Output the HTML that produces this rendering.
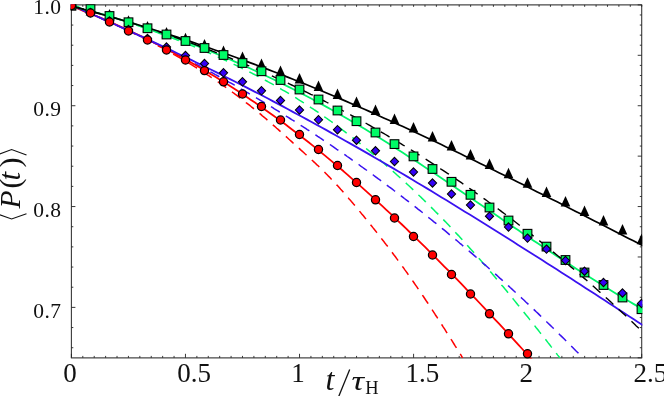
<!DOCTYPE html>
<html><head><meta charset="utf-8"><title>P(t)</title>
<style>
html,body{margin:0;padding:0;background:#fff;}
body{width:664px;height:396px;overflow:hidden;font-family:"Liberation Serif",serif;}
svg{display:block;will-change:transform;}
text{font-family:"Liberation Serif",serif;fill:#111;}
</style></head><body>
<svg width="664" height="396" viewBox="0 0 664 396">
<rect x="0" y="0" width="664" height="396" fill="#fff"/>
<defs><clipPath id="pc"><rect x="70.7" y="4.300000000000001" width="571.6" height="354.1"/></clipPath><clipPath id="pc2"><rect x="70.7" y="4.300000000000001" width="571.6" height="355.90000000000003"/></clipPath></defs>

<g stroke="#444" stroke-width="1" fill="none">
<path d="M70.9,4.9 H642.2 M70.9,357.8 H642.2" stroke="#4a4a4a" stroke-width="1.25"/>
<path d="M71.4,4.9 V357.8 M641.7,4.9 V357.8" stroke="#3a3a3a" stroke-width="1.1"/>
<path d="M71.40,357.8 v-4.0 M71.40,4.9 v1.9 M82.81,357.8 v-1.9 M82.81,4.9 v1.9 M94.21,357.8 v-1.9 M94.21,4.9 v1.9 M105.62,357.8 v-1.9 M105.62,4.9 v1.9 M117.02,357.8 v-1.9 M117.02,4.9 v1.9 M128.43,357.8 v-1.9 M128.43,4.9 v1.9 M139.84,357.8 v-1.9 M139.84,4.9 v1.9 M151.24,357.8 v-1.9 M151.24,4.9 v1.9 M162.65,357.8 v-1.9 M162.65,4.9 v1.9 M174.05,357.8 v-1.9 M174.05,4.9 v1.9 M185.46,357.8 v-4.0 M185.46,4.9 v1.9 M196.87,357.8 v-1.9 M196.87,4.9 v1.9 M208.27,357.8 v-1.9 M208.27,4.9 v1.9 M219.68,357.8 v-1.9 M219.68,4.9 v1.9 M231.08,357.8 v-1.9 M231.08,4.9 v1.9 M242.49,357.8 v-1.9 M242.49,4.9 v1.9 M253.90,357.8 v-1.9 M253.90,4.9 v1.9 M265.30,357.8 v-1.9 M265.30,4.9 v1.9 M276.71,357.8 v-1.9 M276.71,4.9 v1.9 M288.11,357.8 v-1.9 M288.11,4.9 v1.9 M299.52,357.8 v-4.0 M299.52,4.9 v1.9 M310.93,357.8 v-1.9 M310.93,4.9 v1.9 M322.33,357.8 v-1.9 M322.33,4.9 v1.9 M333.74,357.8 v-1.9 M333.74,4.9 v1.9 M345.14,357.8 v-1.9 M345.14,4.9 v1.9 M356.55,357.8 v-1.9 M356.55,4.9 v1.9 M367.96,357.8 v-1.9 M367.96,4.9 v1.9 M379.36,357.8 v-1.9 M379.36,4.9 v1.9 M390.77,357.8 v-1.9 M390.77,4.9 v1.9 M402.17,357.8 v-1.9 M402.17,4.9 v1.9 M413.58,357.8 v-4.0 M413.58,4.9 v1.9 M424.99,357.8 v-1.9 M424.99,4.9 v1.9 M436.39,357.8 v-1.9 M436.39,4.9 v1.9 M447.80,357.8 v-1.9 M447.80,4.9 v1.9 M459.20,357.8 v-1.9 M459.20,4.9 v1.9 M470.61,357.8 v-1.9 M470.61,4.9 v1.9 M482.02,357.8 v-1.9 M482.02,4.9 v1.9 M493.42,357.8 v-1.9 M493.42,4.9 v1.9 M504.83,357.8 v-1.9 M504.83,4.9 v1.9 M516.23,357.8 v-1.9 M516.23,4.9 v1.9 M527.64,357.8 v-4.0 M527.64,4.9 v1.9 M539.05,357.8 v-1.9 M539.05,4.9 v1.9 M550.45,357.8 v-1.9 M550.45,4.9 v1.9 M561.86,357.8 v-1.9 M561.86,4.9 v1.9 M573.26,357.8 v-1.9 M573.26,4.9 v1.9 M584.67,357.8 v-1.9 M584.67,4.9 v1.9 M596.08,357.8 v-1.9 M596.08,4.9 v1.9 M607.48,357.8 v-1.9 M607.48,4.9 v1.9 M618.89,357.8 v-1.9 M618.89,4.9 v1.9 M630.29,357.8 v-1.9 M630.29,4.9 v1.9 M641.70,357.8 v-4.0 M641.70,4.9 v1.9 M71.4,4.90 h4.0 M71.4,25.07 h1.9 M71.4,45.23 h1.9 M71.4,65.40 h1.9 M71.4,85.56 h1.9 M71.4,105.73 h4.0 M71.4,125.89 h1.9 M71.4,146.06 h1.9 M71.4,166.23 h1.9 M71.4,186.39 h1.9 M71.4,206.56 h4.0 M71.4,226.72 h1.9 M71.4,246.89 h1.9 M71.4,267.05 h1.9 M71.4,287.22 h1.9 M71.4,307.39 h4.0 M71.4,327.55 h1.9 M71.4,347.72 h1.9 M641.7,4.90 h-4.0 M641.7,14.98 h-1.9 M641.7,25.07 h-1.9 M641.7,35.15 h-1.9 M641.7,45.23 h-1.9 M641.7,55.31 h-4.0 M641.7,65.40 h-1.9 M641.7,75.48 h-1.9 M641.7,85.56 h-1.9 M641.7,95.65 h-1.9 M641.7,105.73 h-4.0 M641.7,115.81 h-1.9 M641.7,125.89 h-1.9 M641.7,135.98 h-1.9 M641.7,146.06 h-1.9 M641.7,156.14 h-4.0 M641.7,166.23 h-1.9 M641.7,176.31 h-1.9 M641.7,186.39 h-1.9 M641.7,196.47 h-1.9 M641.7,206.56 h-4.0 M641.7,216.64 h-1.9 M641.7,226.72 h-1.9 M641.7,236.81 h-1.9 M641.7,246.89 h-1.9 M641.7,256.97 h-4.0 M641.7,267.05 h-1.9 M641.7,277.14 h-1.9 M641.7,287.22 h-1.9 M641.7,297.30 h-1.9 M641.7,307.39 h-4.0 M641.7,317.47 h-1.9 M641.7,327.55 h-1.9 M641.7,337.63 h-1.9 M641.7,347.72 h-1.9 M641.7,357.80 h-4.0" stroke="#222" stroke-width="0.9"/>
</g>
<g clip-path="url(#pc)" fill="none" stroke-linecap="butt" stroke-linejoin="round">
<path d="M462.6,357.8 L462.0,356.8 L460.7,354.7 L459.3,352.5 L458.0,350.4 L456.7,348.2 L455.3,346.1 L454.0,344.0 L452.7,341.8 L451.3,339.7 L450.0,337.6 L448.7,335.5 L447.3,333.4 L446.0,331.3 L444.7,329.2 L443.3,327.1 L442.0,325.0 L440.7,322.9 L439.3,320.9 L438.0,318.8 L436.7,316.7 L435.3,314.7 L434.0,312.6 L432.7,310.6 L431.3,308.6 L430.0,306.5 L428.7,304.5 L427.4,302.5 L426.0,300.5 L424.7,298.5 L423.4,296.5 L422.0,294.5 L420.7,292.6 L419.4,290.6 L418.0,288.6 L416.7,286.7 L415.4,284.8 L414.0,282.8 L412.7,280.9 L411.4,279.0 L410.0,277.1 L408.7,275.2 L407.4,273.3 L406.0,271.4 L404.7,269.6 L403.4,267.7 L402.0,265.9 L400.7,264.0 L399.4,262.2 L398.0,260.4 L396.7,258.6 L395.4,256.8 L394.0,255.0 L392.7,253.2 L391.4,251.4 L390.0,249.6 L388.7,247.9 L387.4,246.1 L386.0,244.4 L384.7,242.7 L383.4,240.9 L382.0,239.2 L380.7,237.5 L379.4,235.8 L378.0,234.1 L376.7,232.4 L375.4,230.7 L374.0,229.0 L372.7,227.4 L371.4,225.7 L370.0,224.0 L368.7,222.4 L367.4,220.7 L366.0,219.1 L364.7,217.5 L363.4,215.8 L362.0,214.2 L360.7,212.6 L359.4,211.0 L358.0,209.4 L356.7,207.8 L355.4,206.2 L354.0,204.6 L352.7,203.0 L351.4,201.5 L350.1,199.9 L348.7,198.4 L347.4,196.8 L346.1,195.3 L344.7,193.8 L343.4,192.3 L342.1,190.8 L340.7,189.3 L339.4,187.8 L338.1,186.3 L336.7,184.9 L335.4,183.4 L334.1,182.0 L332.7,180.6 L331.4,179.2 L330.1,177.8 L328.7,176.4 L327.4,175.0 L326.1,173.7 L324.7,172.3 L323.4,171.0 L322.1,169.7 L320.7,168.4 L319.4,167.1 L318.1,165.8 L316.7,164.6 L315.4,163.3 L314.1,162.1 L312.7,160.8 L311.4,159.6 L310.1,158.4 L308.7,157.1 L307.4,155.9 L306.1,154.7 L304.7,153.5 L303.4,152.3 L302.1,151.1 L300.7,149.9 L299.4,148.6 L298.1,147.4 L296.7,146.2 L295.4,145.0 L294.1,143.8 L292.7,142.6 L291.4,141.4 L290.1,140.2 L288.7,139.0 L287.4,137.8 L286.1,136.6 L284.7,135.4 L283.4,134.2 L282.1,133.0 L280.7,131.8 L279.4,130.6 L278.1,129.4 L276.7,128.2 L275.4,127.0 L274.1,125.9 L272.7,124.7 L271.4,123.5 L270.1,122.4 L268.8,121.2 L267.4,120.1 L266.1,118.9 L264.8,117.8 L263.4,116.7 L262.1,115.6 L260.8,114.4 L259.4,113.3 L258.1,112.2 L256.8,111.1 L255.4,110.0 L254.1,109.0 L252.8,107.9 L251.4,106.8 L250.1,105.7 L248.8,104.7 L247.4,103.6 L246.1,102.6 L244.8,101.5 L243.4,100.5 L242.1,99.5 L240.8,98.5 L239.4,97.4 L238.1,96.4 L236.8,95.4 L235.4,94.4 L234.1,93.4 L232.8,92.5 L231.4,91.5 L230.1,90.5 L228.8,89.5 L227.4,88.6 L226.1,87.6 L224.8,86.7 L223.4,85.7 L222.1,84.8 L220.8,83.8 L219.4,82.9 L218.1,82.0 L216.8,81.1 L215.4,80.2 L214.1,79.3 L212.8,78.4 L211.4,77.5 L210.1,76.6 L208.8,75.7 L207.4,74.8 L206.1,74.0 L204.8,73.1 L203.4,72.2 L202.1,71.4 L200.8,70.5 L199.4,69.7 L198.1,68.9 L196.8,68.0 L195.4,67.2 L194.1,66.4 L192.8,65.5 L191.4,64.7 L190.1,63.9 L188.8,63.1 L187.5,62.3 L186.1,61.5 L184.8,60.7 L183.5,59.9 L182.1,59.2 L180.8,58.4 L179.5,57.6 L178.1,56.8 L176.8,56.1 L175.5,55.3 L174.1,54.6 L172.8,53.8 L171.5,53.1 L170.1,52.3 L168.8,51.6 L167.5,50.8 L166.1,50.1 L164.8,49.4 L163.5,48.7 L162.1,47.9 L160.8,47.2 L159.5,46.5 L158.1,45.8 L156.8,45.1 L155.5,44.4 L154.1,43.7 L152.8,43.0 L151.5,42.3 L150.1,41.6 L148.8,40.9 L147.5,40.3 L146.1,39.6 L144.8,38.9 L143.5,38.2 L142.1,37.6 L140.8,36.9 L139.5,36.2 L138.1,35.6 L136.8,34.9 L135.5,34.3 L134.1,33.6 L132.8,33.0 L131.5,32.3 L130.1,31.7 L128.8,31.0 L127.5,30.4 L126.1,29.8 L124.8,29.1 L123.5,28.5 L122.1,27.9 L120.8,27.2 L119.5,26.6 L118.1,26.0 L116.8,25.4 L115.5,24.8 L114.1,24.1 L112.8,23.5 L111.5,22.9 L110.2,22.3 L108.8,21.7 L107.5,21.1 L106.2,20.5 L104.8,19.9 L103.5,19.3 L102.2,18.7 L100.8,18.1 L99.5,17.5 L98.2,16.9 L96.8,16.3 L95.5,15.7 L94.2,15.1 L92.8,14.5 L91.5,13.9 L90.2,13.4 L88.8,12.8 L87.5,12.2 L86.2,11.6 L84.8,11.0 L83.5,10.4 L82.2,9.9 L80.8,9.3 L79.5,8.7 L78.2,8.1 L76.8,7.5 L75.5,7.0 L74.2,6.4 L72.8,5.8 L71.5,5.2" stroke="#ff0000" stroke-width="1.5" stroke-dasharray="10.3 7.2" stroke-dashoffset="5.8"/>
<path d="M559.8,357.8 L559.4,357.2 L557.7,355.1 L556.1,353.0 L554.4,350.9 L552.8,348.7 L551.1,346.6 L549.5,344.5 L547.8,342.4 L546.2,340.3 L544.5,338.2 L542.8,336.1 L541.2,334.0 L539.5,331.9 L537.9,329.8 L536.2,327.7 L534.6,325.6 L532.9,323.5 L531.3,321.5 L529.6,319.4 L528.0,317.3 L526.3,315.3 L524.7,313.2 L523.0,311.1 L521.3,309.1 L519.7,307.0 L518.0,305.0 L516.4,303.0 L514.7,300.9 L513.1,298.9 L511.4,296.9 L509.8,294.9 L508.1,292.9 L506.5,290.8 L504.8,288.8 L503.2,286.8 L501.5,284.9 L499.8,282.9 L498.2,280.9 L496.5,278.9 L494.9,277.0 L493.2,275.0 L491.6,273.1 L489.9,271.1 L488.3,269.2 L486.6,267.3 L485.0,265.3 L483.3,263.4 L481.7,261.5 L480.0,259.6 L478.3,257.7 L476.7,255.8 L475.0,254.0 L473.4,252.1 L471.7,250.2 L470.1,248.4 L468.4,246.5 L466.8,244.7 L465.1,242.9 L463.5,241.1 L461.8,239.2 L460.2,237.4 L458.5,235.6 L456.8,233.9 L455.2,232.1 L453.5,230.3 L451.9,228.6 L450.2,226.8 L448.6,225.1 L446.9,223.3 L445.3,221.6 L443.6,219.9 L442.0,218.2 L440.3,216.5 L438.7,214.8 L437.0,213.1 L435.3,211.5 L433.7,209.8 L432.0,208.1 L430.4,206.5 L428.7,204.8 L427.1,203.2 L425.4,201.6 L423.8,200.0 L422.1,198.4 L420.5,196.8 L418.8,195.2 L417.2,193.6 L415.5,192.0 L413.8,190.4 L412.2,188.9 L410.5,187.3 L408.9,185.8 L407.2,184.2 L405.6,182.7 L403.9,181.2 L402.3,179.7 L400.6,178.2 L399.0,176.7 L397.3,175.2 L395.7,173.7 L394.0,172.2 L392.3,170.7 L390.7,169.3 L389.0,167.8 L387.4,166.4 L385.7,164.9 L384.1,163.5 L382.4,162.1 L380.8,160.7 L379.1,159.3 L377.5,157.9 L375.8,156.5 L374.2,155.1 L372.5,153.7 L370.8,152.3 L369.2,151.0 L367.5,149.6 L365.9,148.3 L364.2,146.9 L362.6,145.6 L360.9,144.3 L359.3,142.9 L357.6,141.6 L356.0,140.3 L354.3,139.0 L352.7,137.7 L351.0,136.4 L349.3,135.1 L347.7,133.9 L346.0,132.6 L344.4,131.3 L342.7,130.1 L341.1,128.8 L339.4,127.6 L337.8,126.4 L336.1,125.2 L334.5,123.9 L332.8,122.7 L331.2,121.5 L329.5,120.3 L327.8,119.2 L326.2,118.0 L324.5,116.8 L322.9,115.7 L321.2,114.5 L319.6,113.4 L317.9,112.2 L316.3,111.1 L314.6,110.0 L313.0,108.9 L311.3,107.8 L309.7,106.7 L308.0,105.6 L306.3,104.5 L304.7,103.4 L303.0,102.4 L301.4,101.3 L299.7,100.3 L298.1,99.3 L296.4,98.2 L294.8,97.2 L293.1,96.2 L291.5,95.2 L289.8,94.2 L288.2,93.2 L286.5,92.2 L284.8,91.2 L283.2,90.3 L281.5,89.3 L279.9,88.4 L278.2,87.4 L276.6,86.5 L274.9,85.5 L273.3,84.6 L271.6,83.7 L270.0,82.8 L268.3,81.9 L266.7,81.0 L265.0,80.1 L263.3,79.2 L261.7,78.3 L260.0,77.4 L258.4,76.6 L256.7,75.7 L255.1,74.8 L253.4,74.0 L251.8,73.1 L250.1,72.3 L248.5,71.5 L246.8,70.6 L245.2,69.8 L243.5,69.0 L241.8,68.2 L240.2,67.3 L238.5,66.5 L236.9,65.7 L235.2,64.9 L233.6,64.2 L231.9,63.4 L230.3,62.6 L228.6,61.8 L227.0,61.0 L225.3,60.3 L223.7,59.5 L222.0,58.8 L220.3,58.0 L218.7,57.3 L217.0,56.5 L215.4,55.8 L213.7,55.1 L212.1,54.3 L210.4,53.6 L208.8,52.9 L207.1,52.2 L205.5,51.5 L203.8,50.8 L202.2,50.0 L200.5,49.4 L198.8,48.7 L197.2,48.0 L195.5,47.3 L193.9,46.6 L192.2,45.9 L190.6,45.3 L188.9,44.6 L187.3,43.9 L185.6,43.3 L184.0,42.6 L182.3,41.9 L180.7,41.3 L179.0,40.6 L177.3,40.0 L175.7,39.4 L174.0,38.7 L172.4,38.1 L170.7,37.5 L169.1,36.8 L167.4,36.2 L165.8,35.6 L164.1,35.0 L162.5,34.4 L160.8,33.8 L159.2,33.2 L157.5,32.6 L155.8,32.0 L154.2,31.4 L152.5,30.8 L150.9,30.2 L149.2,29.6 L147.6,29.0 L145.9,28.4 L144.3,27.9 L142.6,27.3 L141.0,26.7 L139.3,26.1 L137.7,25.6 L136.0,25.0 L134.3,24.5 L132.7,23.9 L131.0,23.3 L129.4,22.8 L127.7,22.2 L126.1,21.7 L124.4,21.1 L122.8,20.6 L121.1,20.1 L119.5,19.5 L117.8,19.0 L116.2,18.4 L114.5,17.9 L112.8,17.4 L111.2,16.8 L109.5,16.3 L107.9,15.8 L106.2,15.3 L104.6,14.8 L102.9,14.2 L101.3,13.7 L99.6,13.2 L98.0,12.7 L96.3,12.2 L94.7,11.7 L93.0,11.2 L91.3,10.7 L89.7,10.2 L88.0,9.6 L86.4,9.1 L84.7,8.6 L83.1,8.1 L81.4,7.6 L79.8,7.2 L78.1,6.7 L76.5,6.2 L74.8,5.7 L73.2,5.2 L71.5,4.7" stroke="#00f56a" stroke-width="1.5" stroke-dasharray="10.3 7.2" stroke-dashoffset="4.4"/>
<path d="M582.8,357.8 L581.3,356.3 L579.6,354.5 L577.9,352.7 L576.1,351.0 L574.4,349.2 L572.7,347.5 L570.9,345.7 L569.2,344.0 L567.5,342.3 L565.7,340.5 L564.0,338.8 L562.3,337.1 L560.5,335.4 L558.8,333.6 L557.1,331.9 L555.3,330.2 L553.6,328.5 L551.8,326.8 L550.1,325.1 L548.4,323.5 L546.6,321.8 L544.9,320.1 L543.2,318.4 L541.4,316.8 L539.7,315.1 L538.0,313.4 L536.2,311.8 L534.5,310.1 L532.8,308.5 L531.0,306.9 L529.3,305.2 L527.6,303.6 L525.8,302.0 L524.1,300.3 L522.4,298.7 L520.6,297.1 L518.9,295.5 L517.2,293.9 L515.4,292.3 L513.7,290.7 L512.0,289.1 L510.2,287.5 L508.5,285.9 L506.8,284.3 L505.0,282.8 L503.3,281.2 L501.6,279.6 L499.8,278.1 L498.1,276.5 L496.4,274.9 L494.6,273.4 L492.9,271.8 L491.2,270.3 L489.4,268.8 L487.7,267.2 L486.0,265.7 L484.2,264.2 L482.5,262.7 L480.8,261.1 L479.0,259.6 L477.3,258.1 L475.5,256.6 L473.8,255.1 L472.1,253.6 L470.3,252.1 L468.6,250.6 L466.9,249.2 L465.1,247.7 L463.4,246.2 L461.7,244.7 L459.9,243.3 L458.2,241.8 L456.5,240.3 L454.7,238.9 L453.0,237.4 L451.3,236.0 L449.5,234.6 L447.8,233.1 L446.1,231.7 L444.3,230.2 L442.6,228.8 L440.9,227.4 L439.1,226.0 L437.4,224.6 L435.7,223.2 L433.9,221.8 L432.2,220.4 L430.5,219.0 L428.7,217.6 L427.0,216.2 L425.3,214.8 L423.5,213.4 L421.8,212.0 L420.1,210.7 L418.3,209.3 L416.6,207.9 L414.9,206.6 L413.1,205.2 L411.4,203.8 L409.7,202.5 L407.9,201.1 L406.2,199.8 L404.4,198.5 L402.7,197.1 L401.0,195.8 L399.2,194.5 L397.5,193.2 L395.8,191.8 L394.0,190.5 L392.3,189.2 L390.6,187.9 L388.8,186.6 L387.1,185.3 L385.4,184.0 L383.6,182.7 L381.9,181.4 L380.2,180.1 L378.4,178.9 L376.7,177.6 L375.0,176.3 L373.2,175.0 L371.5,173.8 L369.8,172.5 L368.0,171.3 L366.3,170.0 L364.6,168.8 L362.8,167.5 L361.1,166.3 L359.4,165.0 L357.6,163.8 L355.9,162.6 L354.2,161.3 L352.4,160.1 L350.7,158.9 L349.0,157.7 L347.2,156.5 L345.5,155.2 L343.8,154.0 L342.0,152.8 L340.3,151.6 L338.6,150.4 L336.8,149.3 L335.1,148.1 L333.4,146.9 L331.6,145.7 L329.9,144.5 L328.1,143.4 L326.4,142.2 L324.7,141.0 L322.9,139.9 L321.2,138.7 L319.5,137.5 L317.7,136.4 L316.0,135.2 L314.3,134.1 L312.5,133.0 L310.8,131.8 L309.1,130.7 L307.3,129.6 L305.6,128.4 L303.9,127.3 L302.1,126.2 L300.4,125.1 L298.7,124.0 L296.9,122.9 L295.2,121.8 L293.5,120.6 L291.7,119.6 L290.0,118.5 L288.3,117.4 L286.5,116.3 L284.8,115.2 L283.1,114.1 L281.3,113.0 L279.6,112.0 L277.9,110.9 L276.1,109.8 L274.4,108.8 L272.7,107.7 L270.9,106.6 L269.2,105.6 L267.5,104.5 L265.7,103.5 L264.0,102.4 L262.3,101.4 L260.5,100.4 L258.8,99.3 L257.1,98.3 L255.3,97.3 L253.6,96.3 L251.8,95.2 L250.1,94.2 L248.4,93.2 L246.6,92.2 L244.9,91.2 L243.2,90.2 L241.4,89.2 L239.7,88.2 L238.0,87.2 L236.2,86.2 L234.5,85.2 L232.8,84.2 L231.0,83.2 L229.3,82.3 L227.6,81.3 L225.8,80.3 L224.1,79.4 L222.4,78.4 L220.6,77.4 L218.9,76.5 L217.2,75.5 L215.4,74.6 L213.7,73.6 L212.0,72.7 L210.2,71.7 L208.5,70.8 L206.8,69.9 L205.0,68.9 L203.3,68.0 L201.6,67.1 L199.8,66.1 L198.1,65.2 L196.4,64.3 L194.6,63.4 L192.9,62.5 L191.2,61.6 L189.4,60.7 L187.7,59.8 L186.0,58.9 L184.2,58.0 L182.5,57.1 L180.7,56.2 L179.0,55.3 L177.3,54.4 L175.5,53.5 L173.8,52.7 L172.1,51.8 L170.3,50.9 L168.6,50.0 L166.9,49.2 L165.1,48.3 L163.4,47.5 L161.7,46.6 L159.9,45.7 L158.2,44.9 L156.5,44.0 L154.7,43.2 L153.0,42.4 L151.3,41.5 L149.5,40.7 L147.8,39.8 L146.1,39.0 L144.3,38.2 L142.6,37.4 L140.9,36.5 L139.1,35.7 L137.4,34.9 L135.7,34.1 L133.9,33.3 L132.2,32.5 L130.5,31.7 L128.7,30.9 L127.0,30.1 L125.3,29.3 L123.5,28.5 L121.8,27.7 L120.1,26.9 L118.3,26.1 L116.6,25.3 L114.9,24.6 L113.1,23.8 L111.4,23.0 L109.7,22.2 L107.9,21.5 L106.2,20.7 L104.4,20.0 L102.7,19.2 L101.0,18.4 L99.2,17.7 L97.5,16.9 L95.8,16.2 L94.0,15.4 L92.3,14.7 L90.6,14.0 L88.8,13.2 L87.1,12.5 L85.4,11.7 L83.6,11.0 L81.9,10.3 L80.2,9.6 L78.4,8.8 L76.7,8.1 L75.0,7.4 L73.2,6.7 L71.5,6.0" stroke="#3a12f0" stroke-width="1.5" stroke-dasharray="10.3 7.2" stroke-dashoffset="11.3"/>
<path d="M71.5,6.3 L75.4,7.7 L79.3,9.2 L83.2,10.8 L87.0,12.3 L90.9,13.9 L94.8,15.5 L98.7,17.1 L102.6,18.7 L106.5,20.4 L110.4,22.1 L114.3,23.8 L118.1,25.5 L122.0,27.3 L125.9,29.1 L129.8,30.9 L133.7,32.7 L137.6,34.5 L141.5,36.4 L145.3,38.3 L149.2,40.2 L153.1,42.2 L157.0,44.1 L160.9,46.1 L164.8,48.2 L168.7,50.2 L172.6,52.3 L176.4,54.4 L180.3,56.5 L184.2,58.7 L188.1,60.8 L192.0,63.0 L195.9,65.3 L199.8,67.5 L203.6,69.8 L207.5,72.1 L211.4,74.5 L215.3,76.8 L219.2,79.2 L223.1,81.6 L227.0,84.1 L230.8,86.6 L234.7,89.1 L238.6,91.6 L242.5,94.2 L246.4,96.8 L250.3,99.4 L254.2,102.0 L258.1,104.7 L261.9,107.4 L265.8,110.2 L269.7,112.9 L273.6,115.7 L277.5,118.6 L281.4,121.4 L285.3,124.3 L289.1,127.2 L293.0,130.2 L296.9,133.2 L300.8,136.2 L304.7,139.2 L308.6,142.3 L312.5,145.4 L316.4,148.5 L320.2,151.7 L324.1,154.9 L328.0,158.1 L331.9,161.4 L335.8,164.7 L339.7,168.0 L343.6,171.3 L347.4,174.7 L351.3,178.1 L355.2,181.5 L359.1,184.9 L363.0,188.4 L366.9,191.9 L370.8,195.4 L374.7,199.0 L378.5,202.6 L382.4,206.2 L386.3,209.8 L390.2,213.4 L394.1,217.1 L398.0,220.8 L401.9,224.5 L405.7,228.2 L409.6,232.0 L413.5,235.8 L417.4,239.6 L421.3,243.4 L425.2,247.2 L429.1,251.1 L432.9,255.0 L436.8,258.9 L440.7,262.8 L444.6,266.8 L448.5,270.7 L452.4,274.7 L456.3,278.7 L460.2,282.7 L464.0,286.7 L467.9,290.8 L471.8,294.9 L475.7,298.9 L479.6,303.0 L483.5,307.1 L487.4,311.3 L491.2,315.4 L495.1,319.6 L499.0,323.7 L502.9,327.9 L506.8,332.1 L510.7,336.3 L514.6,340.6 L518.5,344.8 L522.3,349.0 L526.2,353.3 L530.1,357.6 L534.0,361.9" stroke="#ff0000" stroke-width="1.8"/>
<path d="M71.5,5.3 L76.3,7.4 L81.1,9.5 L85.9,11.6 L90.7,13.7 L95.5,15.8 L100.3,17.9 L105.1,20.0 L109.9,22.2 L114.7,24.3 L119.5,26.5 L124.3,28.6 L129.1,30.8 L133.9,33.0 L138.7,35.2 L143.5,37.4 L148.3,39.6 L153.1,41.9 L157.9,44.1 L162.7,46.4 L167.6,48.6 L172.4,50.9 L177.2,53.2 L182.0,55.5 L186.8,57.8 L191.6,60.1 L196.4,62.5 L201.2,64.8 L206.0,67.2 L210.8,69.5 L215.6,71.9 L220.4,74.3 L225.2,76.7 L230.0,79.1 L234.8,81.5 L239.6,84.0 L244.4,86.4 L249.2,88.9 L254.0,91.4 L258.8,93.8 L263.6,96.3 L268.4,98.8 L273.2,101.4 L278.0,103.9 L282.8,106.4 L287.6,109.0 L292.4,111.6 L297.2,114.2 L302.0,116.8 L306.8,119.4 L311.6,122.0 L316.4,124.6 L321.2,127.3 L326.0,129.9 L330.8,132.6 L335.6,135.3 L340.4,138.0 L345.2,140.7 L350.0,143.4 L354.8,146.1 L359.7,148.9 L364.5,151.6 L369.3,154.4 L374.1,157.2 L378.9,160.0 L383.7,162.8 L388.5,165.6 L393.3,168.4 L398.1,171.2 L402.9,174.1 L407.7,176.9 L412.5,179.8 L417.3,182.7 L422.1,185.6 L426.9,188.4 L431.7,191.3 L436.5,194.2 L441.3,197.2 L446.1,200.1 L450.9,203.0 L455.7,206.0 L460.5,208.9 L465.3,211.9 L470.1,214.8 L474.9,217.8 L479.7,220.8 L484.5,223.8 L489.3,226.8 L494.1,229.8 L498.9,232.8 L503.7,235.8 L508.5,238.8 L513.3,241.8 L518.1,244.9 L522.9,247.9 L527.7,251.0 L532.5,254.0 L537.3,257.1 L542.1,260.1 L546.9,263.2 L551.8,266.3 L556.6,269.3 L561.4,272.4 L566.2,275.5 L571.0,278.6 L575.8,281.7 L580.6,284.8 L585.4,287.9 L590.2,291.0 L595.0,294.1 L599.8,297.2 L604.6,300.3 L609.4,303.4 L614.2,306.6 L619.0,309.7 L623.8,312.8 L628.6,315.9 L633.4,319.1 L638.2,322.2 L643.0,325.3" stroke="#3a12f0" stroke-width="1.8"/>
<path d="M71.5,6.2 L76.3,7.4 L81.1,8.6 L85.9,9.8 L90.7,11.1 L95.5,12.4 L100.3,13.7 L105.1,15.1 L109.9,16.5 L114.7,17.9 L119.5,19.3 L124.3,20.7 L129.1,22.2 L133.9,23.7 L138.7,25.3 L143.5,26.8 L148.3,28.4 L153.1,30.0 L157.9,31.7 L162.7,33.3 L167.6,35.0 L172.4,36.7 L177.2,38.5 L182.0,40.3 L186.8,42.1 L191.6,43.9 L196.4,45.7 L201.2,47.6 L206.0,49.5 L210.8,51.5 L215.6,53.5 L220.4,55.4 L225.2,57.5 L230.0,59.5 L234.8,61.6 L239.6,63.7 L244.4,65.9 L249.2,68.0 L254.0,70.2 L258.8,72.4 L263.6,74.7 L268.4,77.0 L273.2,79.3 L278.0,81.6 L282.8,84.0 L287.6,86.4 L292.4,88.8 L297.2,91.3 L302.0,93.8 L306.8,96.3 L311.6,98.8 L316.4,101.4 L321.2,104.0 L326.0,106.6 L330.8,109.3 L335.6,112.0 L340.4,114.7 L345.2,117.5 L350.0,120.3 L354.8,123.1 L359.7,125.9 L364.5,128.8 L369.3,131.7 L374.1,134.7 L378.9,137.6 L383.7,140.6 L388.5,143.6 L393.3,146.7 L398.1,149.7 L402.9,152.8 L407.7,155.9 L412.5,159.0 L417.3,162.1 L422.1,165.3 L426.9,168.5 L431.7,171.6 L436.5,174.8 L441.3,178.0 L446.1,181.3 L450.9,184.5 L455.7,187.7 L460.5,191.0 L465.3,194.2 L470.1,197.5 L474.9,200.7 L479.7,204.0 L484.5,207.3 L489.3,210.6 L494.1,213.8 L498.9,217.1 L503.7,220.4 L508.5,223.6 L513.3,226.9 L518.1,230.1 L522.9,233.4 L527.7,236.6 L532.5,239.9 L537.3,243.1 L542.1,246.3 L546.9,249.5 L551.8,252.7 L556.6,255.9 L561.4,259.0 L566.2,262.2 L571.0,265.3 L575.8,268.4 L580.6,271.5 L585.4,274.6 L590.2,277.6 L595.0,280.6 L599.8,283.6 L604.6,286.6 L609.4,289.5 L614.2,292.5 L619.0,295.4 L623.8,298.2 L628.6,301.1 L633.4,303.9 L638.2,306.6 L643.0,309.4" stroke="#00f56a" stroke-width="1.8"/>
<path d="M641.7,331.1 L640.2,329.6 L638.3,327.7 L636.3,325.9 L634.4,324.1 L632.5,322.2 L630.6,320.4 L628.7,318.6 L626.8,316.8 L624.9,315.0 L622.9,313.2 L621.0,311.4 L619.1,309.7 L617.2,307.9 L615.3,306.1 L613.4,304.4 L611.4,302.6 L609.5,300.8 L607.6,299.1 L605.7,297.4 L603.8,295.6 L601.9,293.9 L600.0,292.2 L598.0,290.5 L596.1,288.8 L594.2,287.1 L592.3,285.4 L590.4,283.7 L588.5,282.0 L586.6,280.3 L584.6,278.6 L582.7,277.0 L580.8,275.3 L578.9,273.6 L577.0,272.0 L575.1,270.4 L573.2,268.7 L571.2,267.1 L569.3,265.5 L567.4,263.8 L565.5,262.2 L563.6,260.6 L561.7,259.0 L559.8,257.4 L557.8,255.8 L555.9,254.2 L554.0,252.6 L552.1,251.1 L550.2,249.5 L548.3,247.9 L546.3,246.4 L544.4,244.8 L542.5,243.3 L540.6,241.7 L538.7,240.2 L536.8,238.7 L534.9,237.2 L532.9,235.6 L531.0,234.1 L529.1,232.6 L527.2,231.1 L525.3,229.6 L523.4,228.1 L521.5,226.6 L519.5,225.2 L517.6,223.7 L515.7,222.2 L513.8,220.7 L511.9,219.3 L510.0,217.8 L508.1,216.4 L506.1,214.9 L504.2,213.5 L502.3,212.1 L500.4,210.6 L498.5,209.2 L496.6,207.8 L494.7,206.4 L492.7,205.0 L490.8,203.6 L488.9,202.2 L487.0,200.8 L485.1,199.4 L483.2,198.1 L481.2,196.7 L479.3,195.3 L477.4,194.0 L475.5,192.6 L473.6,191.2 L471.7,189.9 L469.8,188.6 L467.8,187.2 L465.9,185.9 L464.0,184.6 L462.1,183.2 L460.2,181.9 L458.3,180.6 L456.4,179.3 L454.4,178.0 L452.5,176.7 L450.6,175.4 L448.7,174.1 L446.8,172.9 L444.9,171.6 L443.0,170.3 L441.0,169.1 L439.1,167.8 L437.2,166.5 L435.3,165.3 L433.4,164.0 L431.5,162.8 L429.6,161.6 L427.6,160.3 L425.7,159.1 L423.8,157.9 L421.9,156.7 L420.0,155.5 L418.1,154.3 L416.1,153.1 L414.2,151.9 L412.3,150.7 L410.4,149.5 L408.5,148.3 L406.6,147.1 L404.7,146.0 L402.7,144.8 L400.8,143.6 L398.9,142.5 L397.0,141.3 L395.1,140.2 L393.2,139.0 L391.3,137.9 L389.3,136.8 L387.4,135.6 L385.5,134.5 L383.6,133.4 L381.7,132.3 L379.8,131.2 L377.9,130.1 L375.9,129.0 L374.0,127.9 L372.1,126.8 L370.2,125.7 L368.3,124.6 L366.4,123.5 L364.5,122.5 L362.5,121.4 L360.6,120.3 L358.7,119.3 L356.8,118.2 L354.9,117.2 L353.0,116.1 L351.0,115.1 L349.1,114.1 L347.2,113.0 L345.3,112.0 L343.4,111.0 L341.5,110.0 L339.6,108.9 L337.6,107.9 L335.7,106.9 L333.8,105.9 L331.9,104.9 L330.0,103.9 L328.1,103.0 L326.2,102.0 L324.2,101.0 L322.3,100.0 L320.4,99.1 L318.5,98.1 L316.6,97.1 L314.7,96.2 L312.8,95.2 L310.8,94.3 L308.9,93.3 L307.0,92.4 L305.1,91.5 L303.2,90.5 L301.3,89.6 L299.4,88.7 L297.4,87.8 L295.5,86.8 L293.6,85.9 L291.7,85.0 L289.8,84.1 L287.9,83.2 L285.9,82.3 L284.0,81.4 L282.1,80.6 L280.2,79.7 L278.3,78.8 L276.4,77.9 L274.5,77.1 L272.5,76.2 L270.6,75.3 L268.7,74.5 L266.8,73.6 L264.9,72.8 L263.0,71.9 L261.1,71.1 L259.1,70.3 L257.2,69.4 L255.3,68.6 L253.4,67.8 L251.5,67.0 L249.6,66.1 L247.7,65.3 L245.7,64.5 L243.8,63.7 L241.9,62.9 L240.0,62.1 L238.1,61.3 L236.2,60.5 L234.3,59.7 L232.3,59.0 L230.4,58.2 L228.5,57.4 L226.6,56.6 L224.7,55.9 L222.8,55.1 L220.8,54.4 L218.9,53.6 L217.0,52.9 L215.1,52.1 L213.2,51.4 L211.3,50.6 L209.4,49.9 L207.4,49.2 L205.5,48.4 L203.6,47.7 L201.7,47.0 L199.8,46.3 L197.9,45.5 L196.0,44.8 L194.0,44.1 L192.1,43.4 L190.2,42.7 L188.3,42.0 L186.4,41.3 L184.5,40.6 L182.6,40.0 L180.6,39.3 L178.7,38.6 L176.8,37.9 L174.9,37.3 L173.0,36.6 L171.1,35.9 L169.2,35.3 L167.2,34.6 L165.3,33.9 L163.4,33.3 L161.5,32.7 L159.6,32.0 L157.7,31.4 L155.7,30.7 L153.8,30.1 L151.9,29.5 L150.0,28.8 L148.1,28.2 L146.2,27.6 L144.3,27.0 L142.3,26.4 L140.4,25.8 L138.5,25.1 L136.6,24.5 L134.7,23.9 L132.8,23.3 L130.9,22.8 L128.9,22.2 L127.0,21.6 L125.1,21.0 L123.2,20.4 L121.3,19.8 L119.4,19.3 L117.5,18.7 L115.5,18.1 L113.6,17.6 L111.7,17.0 L109.8,16.4 L107.9,15.9 L106.0,15.3 L104.1,14.8 L102.1,14.2 L100.2,13.7 L98.3,13.1 L96.4,12.6 L94.5,12.1 L92.6,11.5 L90.6,11.0 L88.7,10.5 L86.8,10.0 L84.9,9.5 L83.0,8.9 L81.1,8.4 L79.2,7.9 L77.2,7.4 L75.3,6.9 L73.4,6.4 L71.5,5.9" stroke="#000" stroke-width="1.4" stroke-dasharray="10.3 7.2" stroke-dashoffset="13.6"/>
<path d="M71.5,6.3 L76.3,7.5 L81.1,8.8 L85.9,10.0 L90.7,11.3 L95.5,12.6 L100.3,13.9 L105.1,15.3 L109.9,16.6 L114.7,18.0 L119.5,19.4 L124.3,20.8 L129.1,22.2 L133.9,23.6 L138.7,25.0 L143.5,26.5 L148.3,28.0 L153.1,29.5 L157.9,31.0 L162.7,32.5 L167.6,34.0 L172.4,35.6 L177.2,37.1 L182.0,38.7 L186.8,40.3 L191.6,41.9 L196.4,43.5 L201.2,45.2 L206.0,46.8 L210.8,48.5 L215.6,50.2 L220.4,51.9 L225.2,53.6 L230.0,55.3 L234.8,57.0 L239.6,58.8 L244.4,60.6 L249.2,62.4 L254.0,64.1 L258.8,66.0 L263.6,67.8 L268.4,69.6 L273.2,71.5 L278.0,73.3 L282.8,75.2 L287.6,77.1 L292.4,79.0 L297.2,81.0 L302.0,82.9 L306.8,84.8 L311.6,86.8 L316.4,88.8 L321.2,90.8 L326.0,92.8 L330.8,94.8 L335.6,96.8 L340.4,98.9 L345.2,100.9 L350.0,103.0 L354.8,105.1 L359.7,107.2 L364.5,109.3 L369.3,111.4 L374.1,113.6 L378.9,115.7 L383.7,117.9 L388.5,120.0 L393.3,122.2 L398.1,124.4 L402.9,126.6 L407.7,128.8 L412.5,131.1 L417.3,133.3 L422.1,135.5 L426.9,137.8 L431.7,140.1 L436.5,142.3 L441.3,144.6 L446.1,146.9 L450.9,149.2 L455.7,151.5 L460.5,153.8 L465.3,156.2 L470.1,158.5 L474.9,160.8 L479.7,163.2 L484.5,165.6 L489.3,167.9 L494.1,170.3 L498.9,172.7 L503.7,175.0 L508.5,177.4 L513.3,179.8 L518.1,182.2 L522.9,184.6 L527.7,187.0 L532.5,189.5 L537.3,191.9 L542.1,194.3 L546.9,196.7 L551.8,199.2 L556.6,201.6 L561.4,204.0 L566.2,206.5 L571.0,208.9 L575.8,211.4 L580.6,213.8 L585.4,216.3 L590.2,218.7 L595.0,221.2 L599.8,223.6 L604.6,226.1 L609.4,228.5 L614.2,231.0 L619.0,233.4 L623.8,235.9 L628.6,238.4 L633.4,240.8 L638.2,243.3 L643.0,245.7" stroke="#000" stroke-width="1.7"/>
</g>
<g clip-path="url(#pc)">
<path d="M71.5,0.1 L76.3,10.6 L66.7,10.6 Z" fill="#000"/>
<path d="M90.5,4.9 L95.3,15.4 L85.7,15.4 Z" fill="#000"/>
<path d="M109.5,9.0 L114.3,19.5 L104.7,19.5 Z" fill="#000"/>
<path d="M128.5,15.3 L133.3,25.8 L123.7,25.8 Z" fill="#000"/>
<path d="M147.5,21.0 L152.3,31.5 L142.7,31.5 Z" fill="#000"/>
<path d="M166.5,26.9 L171.3,37.4 L161.7,37.4 Z" fill="#000"/>
<path d="M185.5,32.7 L190.3,43.2 L180.7,43.2 Z" fill="#000"/>
<path d="M204.5,39.0 L209.3,49.5 L199.7,49.5 Z" fill="#000"/>
<path d="M223.5,45.4 L228.3,55.9 L218.7,55.9 Z" fill="#000"/>
<path d="M242.5,51.6 L247.3,62.1 L237.7,62.1 Z" fill="#000"/>
<path d="M261.5,58.6 L266.3,69.1 L256.7,69.1 Z" fill="#000"/>
<path d="M280.5,65.4 L285.3,75.9 L275.7,75.9 Z" fill="#000"/>
<path d="M299.5,72.9 L304.3,83.4 L294.7,83.4 Z" fill="#000"/>
<path d="M318.5,80.4 L323.3,90.9 L313.7,90.9 Z" fill="#000"/>
<path d="M337.5,88.6 L342.3,99.1 L332.7,99.1 Z" fill="#000"/>
<path d="M356.5,96.6 L361.3,107.1 L351.7,107.1 Z" fill="#000"/>
<path d="M375.5,104.6 L380.3,115.1 L370.7,115.1 Z" fill="#000"/>
<path d="M394.5,113.4 L399.3,123.9 L389.7,123.9 Z" fill="#000"/>
<path d="M413.5,122.1 L418.3,132.6 L408.7,132.6 Z" fill="#000"/>
<path d="M432.5,131.1 L437.3,141.6 L427.7,141.6 Z" fill="#000"/>
<path d="M451.5,140.1 L456.3,150.6 L446.7,150.6 Z" fill="#000"/>
<path d="M470.5,149.1 L475.3,159.6 L465.7,159.6 Z" fill="#000"/>
<path d="M489.5,158.6 L494.3,169.1 L484.7,169.1 Z" fill="#000"/>
<path d="M508.5,167.8 L513.3,178.3 L503.7,178.3 Z" fill="#000"/>
<path d="M527.5,177.3 L532.3,187.8 L522.7,187.8 Z" fill="#000"/>
<path d="M546.5,186.4 L551.3,196.9 L541.7,196.9 Z" fill="#000"/>
<path d="M565.5,196.1 L570.3,206.6 L560.7,206.6 Z" fill="#000"/>
<path d="M584.5,205.5 L589.3,216.0 L579.7,216.0 Z" fill="#000"/>
<path d="M603.5,215.1 L608.3,225.6 L598.7,225.6 Z" fill="#000"/>
<path d="M622.5,224.1 L627.3,234.6 L617.7,234.6 Z" fill="#000"/>
<path d="M641.5,233.8 L646.3,244.3 L636.7,244.3 Z" fill="#000"/>
<rect x="67.15" y="1.15" width="8.7" height="8.7" fill="#00fb66" stroke="#000" stroke-width="1.1"/>
<rect x="86.15" y="4.65" width="8.7" height="8.7" fill="#00fb66" stroke="#000" stroke-width="1.1"/>
<rect x="105.15" y="11.65" width="8.7" height="8.7" fill="#00fb66" stroke="#000" stroke-width="1.1"/>
<rect x="124.15" y="17.90" width="8.7" height="8.7" fill="#00fb66" stroke="#000" stroke-width="1.1"/>
<rect x="143.15" y="23.90" width="8.7" height="8.7" fill="#00fb66" stroke="#000" stroke-width="1.1"/>
<rect x="162.15" y="30.15" width="8.7" height="8.7" fill="#00fb66" stroke="#000" stroke-width="1.1"/>
<rect x="181.15" y="36.65" width="8.7" height="8.7" fill="#00fb66" stroke="#000" stroke-width="1.1"/>
<rect x="200.15" y="43.65" width="8.7" height="8.7" fill="#00fb66" stroke="#000" stroke-width="1.1"/>
<rect x="219.15" y="50.65" width="8.7" height="8.7" fill="#00fb66" stroke="#000" stroke-width="1.1"/>
<rect x="238.15" y="58.65" width="8.7" height="8.7" fill="#00fb66" stroke="#000" stroke-width="1.1"/>
<rect x="257.15" y="66.90" width="8.7" height="8.7" fill="#00fb66" stroke="#000" stroke-width="1.1"/>
<rect x="276.15" y="75.65" width="8.7" height="8.7" fill="#00fb66" stroke="#000" stroke-width="1.1"/>
<rect x="295.15" y="85.15" width="8.7" height="8.7" fill="#00fb66" stroke="#000" stroke-width="1.1"/>
<rect x="314.15" y="95.15" width="8.7" height="8.7" fill="#00fb66" stroke="#000" stroke-width="1.1"/>
<rect x="333.15" y="106.15" width="8.7" height="8.7" fill="#00fb66" stroke="#000" stroke-width="1.1"/>
<rect x="352.15" y="116.85" width="8.7" height="8.7" fill="#00fb66" stroke="#000" stroke-width="1.1"/>
<rect x="371.15" y="128.15" width="8.7" height="8.7" fill="#00fb66" stroke="#000" stroke-width="1.1"/>
<rect x="390.15" y="139.75" width="8.7" height="8.7" fill="#00fb66" stroke="#000" stroke-width="1.1"/>
<rect x="409.15" y="152.05" width="8.7" height="8.7" fill="#00fb66" stroke="#000" stroke-width="1.1"/>
<rect x="428.15" y="164.65" width="8.7" height="8.7" fill="#00fb66" stroke="#000" stroke-width="1.1"/>
<rect x="447.15" y="177.45" width="8.7" height="8.7" fill="#00fb66" stroke="#000" stroke-width="1.1"/>
<rect x="466.15" y="190.45" width="8.7" height="8.7" fill="#00fb66" stroke="#000" stroke-width="1.1"/>
<rect x="485.15" y="203.15" width="8.7" height="8.7" fill="#00fb66" stroke="#000" stroke-width="1.1"/>
<rect x="504.15" y="216.15" width="8.7" height="8.7" fill="#00fb66" stroke="#000" stroke-width="1.1"/>
<rect x="523.15" y="229.40" width="8.7" height="8.7" fill="#00fb66" stroke="#000" stroke-width="1.1"/>
<rect x="542.15" y="242.25" width="8.7" height="8.7" fill="#00fb66" stroke="#000" stroke-width="1.1"/>
<rect x="561.15" y="255.65" width="8.7" height="8.7" fill="#00fb66" stroke="#000" stroke-width="1.1"/>
<rect x="580.15" y="268.15" width="8.7" height="8.7" fill="#00fb66" stroke="#000" stroke-width="1.1"/>
<rect x="599.15" y="280.65" width="8.7" height="8.7" fill="#00fb66" stroke="#000" stroke-width="1.1"/>
<rect x="618.15" y="293.15" width="8.7" height="8.7" fill="#00fb66" stroke="#000" stroke-width="1.1"/>
<rect x="637.15" y="304.85" width="8.7" height="8.7" fill="#00fb66" stroke="#000" stroke-width="1.1"/>
<path d="M71.5,1.3 L75.6,5.5 L71.5,9.7 L67.4,5.5 Z" fill="#3300f5" stroke="#000" stroke-width="1.05"/>
<path d="M90.5,8.3 L94.6,12.5 L90.5,16.7 L86.4,12.5 Z" fill="#3300f5" stroke="#000" stroke-width="1.05"/>
<path d="M109.5,16.8 L113.6,21.0 L109.5,25.2 L105.4,21.0 Z" fill="#3300f5" stroke="#000" stroke-width="1.05"/>
<path d="M128.5,25.3 L132.6,29.5 L128.5,33.7 L124.4,29.5 Z" fill="#3300f5" stroke="#000" stroke-width="1.05"/>
<path d="M147.5,34.3 L151.6,38.5 L147.5,42.7 L143.4,38.5 Z" fill="#3300f5" stroke="#000" stroke-width="1.05"/>
<path d="M166.5,42.8 L170.6,47.0 L166.5,51.2 L162.4,47.0 Z" fill="#3300f5" stroke="#000" stroke-width="1.05"/>
<path d="M185.5,51.3 L189.6,55.5 L185.5,59.7 L181.4,55.5 Z" fill="#3300f5" stroke="#000" stroke-width="1.05"/>
<path d="M204.5,59.3 L208.6,63.5 L204.5,67.7 L200.4,63.5 Z" fill="#3300f5" stroke="#000" stroke-width="1.05"/>
<path d="M223.5,68.5 L227.6,72.8 L223.5,77.0 L219.4,72.8 Z" fill="#3300f5" stroke="#000" stroke-width="1.05"/>
<path d="M242.5,77.5 L246.6,81.8 L242.5,86.0 L238.4,81.8 Z" fill="#3300f5" stroke="#000" stroke-width="1.05"/>
<path d="M261.5,86.5 L265.6,90.8 L261.5,95.0 L257.4,90.8 Z" fill="#3300f5" stroke="#000" stroke-width="1.05"/>
<path d="M280.5,96.3 L284.6,100.5 L280.5,104.7 L276.4,100.5 Z" fill="#3300f5" stroke="#000" stroke-width="1.05"/>
<path d="M299.5,105.8 L303.6,110.0 L299.5,114.2 L295.4,110.0 Z" fill="#3300f5" stroke="#000" stroke-width="1.05"/>
<path d="M318.5,115.5 L322.6,119.8 L318.5,124.0 L314.4,119.8 Z" fill="#3300f5" stroke="#000" stroke-width="1.05"/>
<path d="M337.5,125.5 L341.6,129.7 L337.5,133.9 L333.4,129.7 Z" fill="#3300f5" stroke="#000" stroke-width="1.05"/>
<path d="M356.5,136.1 L360.6,140.2 L356.5,144.4 L352.4,140.2 Z" fill="#3300f5" stroke="#000" stroke-width="1.05"/>
<path d="M375.5,146.6 L379.6,150.8 L375.5,154.9 L371.4,150.8 Z" fill="#3300f5" stroke="#000" stroke-width="1.05"/>
<path d="M394.5,157.3 L398.6,161.5 L394.5,165.7 L390.4,161.5 Z" fill="#3300f5" stroke="#000" stroke-width="1.05"/>
<path d="M413.5,167.8 L417.6,172.0 L413.5,176.2 L409.4,172.0 Z" fill="#3300f5" stroke="#000" stroke-width="1.05"/>
<path d="M432.5,178.8 L436.6,183.0 L432.5,187.2 L428.4,183.0 Z" fill="#3300f5" stroke="#000" stroke-width="1.05"/>
<path d="M451.5,189.8 L455.6,194.0 L451.5,198.2 L447.4,194.0 Z" fill="#3300f5" stroke="#000" stroke-width="1.05"/>
<path d="M470.5,200.8 L474.6,205.0 L470.5,209.2 L466.4,205.0 Z" fill="#3300f5" stroke="#000" stroke-width="1.05"/>
<path d="M489.5,212.1 L493.6,216.2 L489.5,220.4 L485.4,216.2 Z" fill="#3300f5" stroke="#000" stroke-width="1.05"/>
<path d="M508.5,222.8 L512.6,227.0 L508.5,231.2 L504.4,227.0 Z" fill="#3300f5" stroke="#000" stroke-width="1.05"/>
<path d="M527.5,233.9 L531.6,238.1 L527.5,242.3 L523.4,238.1 Z" fill="#3300f5" stroke="#000" stroke-width="1.05"/>
<path d="M546.5,244.9 L550.6,249.1 L546.5,253.3 L542.4,249.1 Z" fill="#3300f5" stroke="#000" stroke-width="1.05"/>
<path d="M565.5,256.3 L569.6,260.5 L565.5,264.7 L561.4,260.5 Z" fill="#3300f5" stroke="#000" stroke-width="1.05"/>
<path d="M584.5,267.1 L588.6,271.2 L584.5,275.4 L580.4,271.2 Z" fill="#3300f5" stroke="#000" stroke-width="1.05"/>
<path d="M603.5,278.3 L607.6,282.5 L603.5,286.7 L599.4,282.5 Z" fill="#3300f5" stroke="#000" stroke-width="1.05"/>
<path d="M622.5,288.8 L626.6,293.0 L622.5,297.2 L618.4,293.0 Z" fill="#3300f5" stroke="#000" stroke-width="1.05"/>
<path d="M641.5,299.3 L645.6,303.5 L641.5,307.7 L637.4,303.5 Z" fill="#3300f5" stroke="#000" stroke-width="1.05"/>
</g>
<g clip-path="url(#pc2)">
<circle cx="71.5" cy="5.5" r="4.1" fill="#ff0000" stroke="#000" stroke-width="1.25"/>
<circle cx="90.5" cy="13.0" r="4.1" fill="#ff0000" stroke="#000" stroke-width="1.25"/>
<circle cx="109.5" cy="22.0" r="4.1" fill="#ff0000" stroke="#000" stroke-width="1.25"/>
<circle cx="128.5" cy="31.0" r="4.1" fill="#ff0000" stroke="#000" stroke-width="1.25"/>
<circle cx="147.5" cy="40.0" r="4.1" fill="#ff0000" stroke="#000" stroke-width="1.25"/>
<circle cx="166.5" cy="50.0" r="4.1" fill="#ff0000" stroke="#000" stroke-width="1.25"/>
<circle cx="185.5" cy="60.0" r="4.1" fill="#ff0000" stroke="#000" stroke-width="1.25"/>
<circle cx="204.5" cy="70.6" r="4.1" fill="#ff0000" stroke="#000" stroke-width="1.25"/>
<circle cx="223.5" cy="81.8" r="4.1" fill="#ff0000" stroke="#000" stroke-width="1.25"/>
<circle cx="242.5" cy="94.0" r="4.1" fill="#ff0000" stroke="#000" stroke-width="1.25"/>
<circle cx="261.5" cy="106.5" r="4.1" fill="#ff0000" stroke="#000" stroke-width="1.25"/>
<circle cx="280.5" cy="120.0" r="4.1" fill="#ff0000" stroke="#000" stroke-width="1.25"/>
<circle cx="299.5" cy="134.5" r="4.1" fill="#ff0000" stroke="#000" stroke-width="1.25"/>
<circle cx="318.5" cy="149.5" r="4.1" fill="#ff0000" stroke="#000" stroke-width="1.25"/>
<circle cx="337.5" cy="165.5" r="4.1" fill="#ff0000" stroke="#000" stroke-width="1.25"/>
<circle cx="356.5" cy="182.5" r="4.1" fill="#ff0000" stroke="#000" stroke-width="1.25"/>
<circle cx="375.5" cy="199.8" r="4.1" fill="#ff0000" stroke="#000" stroke-width="1.25"/>
<circle cx="394.5" cy="218.0" r="4.1" fill="#ff0000" stroke="#000" stroke-width="1.25"/>
<circle cx="413.5" cy="236.5" r="4.1" fill="#ff0000" stroke="#000" stroke-width="1.25"/>
<circle cx="432.5" cy="255.0" r="4.1" fill="#ff0000" stroke="#000" stroke-width="1.25"/>
<circle cx="451.5" cy="274.5" r="4.1" fill="#ff0000" stroke="#000" stroke-width="1.25"/>
<circle cx="470.5" cy="294.0" r="4.1" fill="#ff0000" stroke="#000" stroke-width="1.25"/>
<circle cx="489.5" cy="313.8" r="4.1" fill="#ff0000" stroke="#000" stroke-width="1.25"/>
<circle cx="508.5" cy="333.8" r="4.1" fill="#ff0000" stroke="#000" stroke-width="1.25"/>
<circle cx="527.5" cy="353.8" r="4.1" fill="#ff0000" stroke="#000" stroke-width="1.25"/>
</g>
<text x="63.2" y="381.7" font-size="27">0</text>
<text x="177.3" y="381.7" font-size="27">0.5</text>
<text x="291.3" y="381.7" font-size="27">1</text>
<text x="405.4" y="381.7" font-size="27">1.5</text>
<text x="519.4" y="381.7" font-size="27">2</text>
<text x="633.5" y="381.7" font-size="27">2.5</text>
<text x="61.6" y="14.2" font-size="21.5" text-anchor="end" letter-spacing="0.5">1.0</text>
<text x="61.6" y="115.9" font-size="21.5" text-anchor="end" letter-spacing="0.5">0.9</text>
<text x="61.6" y="216.8" font-size="21.5" text-anchor="end" letter-spacing="0.5">0.8</text>
<text x="61.6" y="317.6" font-size="21.5" text-anchor="end" letter-spacing="0.5">0.7</text>
<text x="325.5" y="390" font-size="32" font-style="italic">t</text>
<path d="M349.7,369.5 L338.3,397.5" stroke="#111" stroke-width="1.3" fill="none"/>
<g transform="translate(351.4,390) scale(1.32,1)"><text x="0" y="0" font-size="26.5" font-style="italic">τ</text></g>
<text x="365.2" y="393.8" font-size="18.5">H</text>
<g transform="translate(20.2,220) rotate(-90)"><path d="M6.2,-23.5 L1.1,-8.6 L6.2,6.3 M64.9,-23.5 L70.5,-8.6 L64.9,6.3" stroke="#111" stroke-width="1.1" fill="none"/><text x="11.5" y="0" font-size="29.5" font-style="italic">P</text><text x="31.5" y="0" font-size="30">(</text><text x="39.4" y="0" font-size="31" font-style="italic">t</text><text x="52.5" y="0" font-size="30">)</text></g>
</svg></body></html>
